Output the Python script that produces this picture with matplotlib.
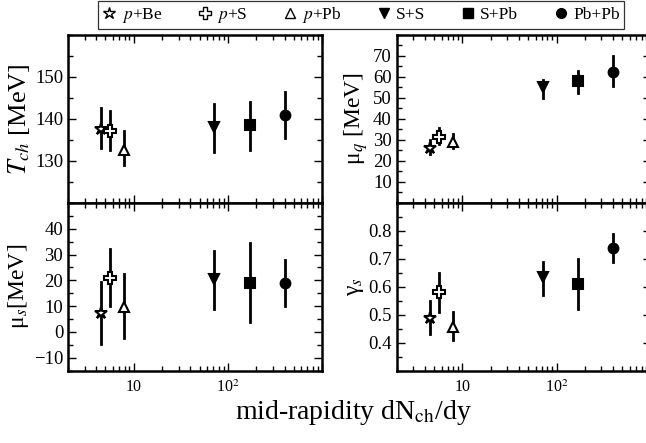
import matplotlib

matplotlib.use("Agg")
import matplotlib.pyplot as plt
from matplotlib.lines import Line2D
from matplotlib.ticker import FixedLocator, MultipleLocator, NullFormatter, FuncFormatter

plt.rcParams["font.family"] = ["Liberation Serif", "DejaVu Serif"]
plt.rcParams["mathtext.fontset"] = "stix"

# systems and mid-rapidity multiplicity
systems = [r"$p$+Be", r"$p$+S", r"$p$+Pb", "S+S", "S+Pb", "Pb+Pb"]
dndy = [4.5, 5.6, 7.9, 71, 170, 400]

# chemical freeze-out temperature
T_ch = [137.5, 137.0, 132.5, 138.0, 138.5, 141.0]
T_lo = [133.0, 132.5, 129.0, 132.0, 132.5, 135.5]
T_hi = [142.5, 141.8, 137.0, 143.5, 144.0, 146.5]

# light quark chemical potential
mu_q = [26.0, 31.5, 29.0, 55.0, 58.0, 62.5]
mu_q_lo = [23.0, 28.0, 26.0, 50.0, 52.5, 55.5]
mu_q_hi = [30.0, 35.5, 33.0, 58.5, 63.0, 70.0]

# strange quark chemical potential
mu_s = [7.5, 21.0, 9.5, 20.5, 19.0, 19.0]
mu_s_lo = [-4.5, 10.0, -2.5, 9.0, 4.0, 10.0]
mu_s_hi = [19.5, 32.0, 22.5, 31.5, 34.5, 28.0]

# strangeness suppression factor
gamma_s = [0.49, 0.58, 0.455, 0.635, 0.61, 0.74]
gamma_s_lo = [0.43, 0.51, 0.41, 0.57, 0.52, 0.69]
gamma_s_hi = [0.55, 0.65, 0.51, 0.69, 0.70, 0.79]

markers = ["*", "P", "^", "v", "s", "o"]
faces = ["white", "white", "white", "black", "black", "black"]
sizes = [9, 8, 7.5, 7.5, 6.5, 7]

fig = plt.figure(figsize=(6.46, 4.43), dpi=100)
w, h = 0.3932, 0.3786
ax_T = fig.add_axes([0.1053, 0.5424, w, h])
ax_q = fig.add_axes([0.6140, 0.5424, w, h])
ax_s = fig.add_axes([0.1053, 0.1632, w, h])
ax_g = fig.add_axes([0.6140, 0.1632, w, h])

panels = [
    (ax_T, T_ch, T_lo, T_hi, (120, 160), [130, 140, 150], 5, r"$T_{ch}$ [MeV]", 19),
    (ax_q, mu_q, mu_q_lo, mu_q_hi, (0, 80), [10, 20, 30, 40, 50, 60, 70], 5, r"μ$_q$ [MeV]", 17),
    (ax_s, mu_s, mu_s_lo, mu_s_hi, (-15, 50), [-10, 0, 10, 20, 30, 40], 5, r"μ$_s$[MeV]", 17),
    (ax_g, gamma_s, gamma_s_lo, gamma_s_hi, (0.3, 0.9), [0.4, 0.5, 0.6, 0.7, 0.8], 0.05, r"γ$_s$", 17),
]

for ax, vals, lo, hi, ylim, yticks, minor, ylabel, lsize in panels:
    for i in range(len(dndy)):
        ax.plot([dndy[i], dndy[i]], [lo[i], hi[i]], color="black", lw=2.0, zorder=2)
        ax.plot(dndy[i], vals[i], marker=markers[i], ms=sizes[i], mfc=faces[i],
                mec="black", mew=1.5, ls="none", zorder=3)
    ax.set_xscale("log")
    ax.set_xlim(2, 1000)
    ax.set_ylim(*ylim)
    ax.yaxis.set_major_locator(FixedLocator(yticks))
    ax.yaxis.set_minor_locator(MultipleLocator(minor))
    ax.set_ylabel(ylabel, fontsize=lsize, labelpad=2)
    ax.tick_params(which="both", direction="in", top=True, right=True, labelsize=13.5,
                   width=1.0)
    ax.tick_params(which="major", length=6)
    ax.tick_params(which="minor", length=3.5)
    for sp in ax.spines.values():
        sp.set_linewidth(1.8)

for ax in (ax_T, ax_q):
    ax.xaxis.set_major_formatter(NullFormatter())
    ax.xaxis.set_minor_formatter(NullFormatter())

for ax in (ax_s, ax_g):
    ax.xaxis.set_major_formatter(FuncFormatter(lambda v, p: "10" if v == 10 else (r"10$^2$" if v == 100 else "")))
    ax.xaxis.set_minor_formatter(NullFormatter())
    ax.tick_params(axis="x", pad=6, labelsize=11.5)

ax_g.yaxis.set_major_formatter(FuncFormatter(lambda v, p: f"{v:.1f}"))

fig.text(0.547, 0.068, r"mid-rapidity dN$_{\mathrm{ch}}$/dy", ha="center", va="center", fontsize=20)

handles = [
    Line2D([], [], marker=markers[i], ms=sizes[i], mfc=faces[i], mec="black",
           mew=1.0, ls="none")
    for i in range(len(systems))
]
leg = fig.legend(handles, systems, loc="center", bbox_to_anchor=(0.559, 0.966), ncol=6,
                 fontsize=12.5, frameon=True, fancybox=False, handlelength=0.8,
                 handletextpad=0.3, columnspacing=2.05, borderpad=0.25)
leg.get_frame().set_edgecolor("black")
leg.get_frame().set_linewidth(0.9)

fig.savefig("out.png", dpi=100)
